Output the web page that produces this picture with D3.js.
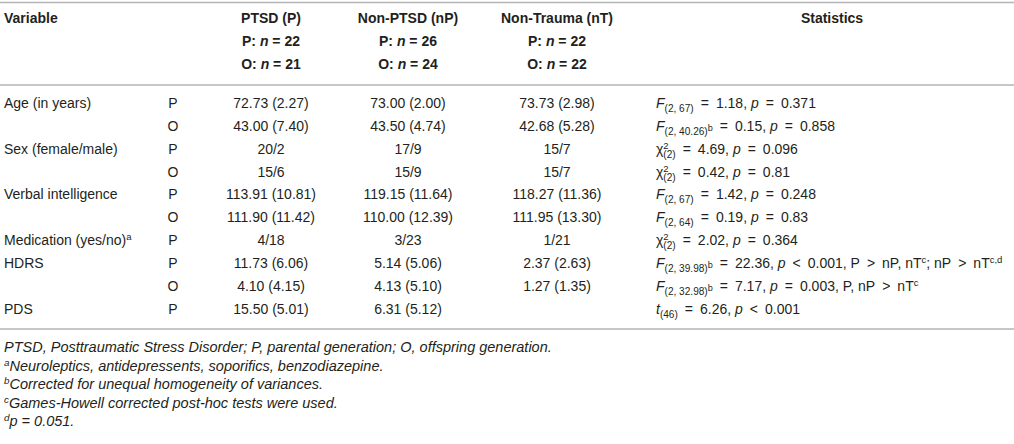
<!DOCTYPE html>
<html>
<head>
<meta charset="utf-8">
<script src="https://cdn.jsdelivr.net/npm/d3@7"></script>
<style>
  body { margin: 0; background: #fff; }
  text { font-family: "Liberation Sans", Arial, Helvetica, sans-serif; fill: #231f20; }
  .head { font-weight: bold; }
  .rule { stroke: #b4b4b4; stroke-width: 1.5; }
  .note { font-style: italic; }
</style>
</head>
<body>
<div id="chart"></div>
<script>
// Datos de la tabla
const headers = ["PTSD (P)", "Non-PTSD (nP)", "Non-Trauma (nT)"]
const nParents = [22, 26, 22]
const nOffspring = [21, 24, 22]

const variables = ["Age (in years)", "", "Sex (female/male)", "", "Verbal intelligence", "", "Medication (yes/no)", "HDRS", "", "PDS"]
const generations = ["P", "O", "P", "O", "P", "O", "P", "P", "O", "P"]
const ptsd = ["72.73 (2.27)", "43.00 (7.40)", "20/2", "15/6", "113.91 (10.81)", "111.90 (11.42)", "4/18", "11.73 (6.06)", "4.10 (4.15)", "15.50 (5.01)"]
const nonPtsd = ["73.00 (2.00)", "43.50 (4.74)", "17/9", "15/9", "119.15 (11.64)", "110.00 (12.39)", "3/23", "5.14 (5.06)", "4.13 (5.10)", "6.31 (5.12)"]
const nonTrauma = ["73.73 (2.98)", "42.68 (5.28)", "15/7", "15/7", "118.27 (11.36)", "111.95 (13.30)", "1/21", "2.37 (2.63)", "1.27 (1.35)", ""]

// Estadísticos: segmentos [texto, estilo]; los operadores llevan espacio ancho
const EQ = "\u2002=\u2002", LT = "\u2002<\u2002", GT = "\u2002>\u2002"
const statistics = [
    [["F", "i"], ["(2, 67)", "sub"], [EQ + "1.18, "], ["p", "i"], [EQ + "0.371"]],
    [["F", "i"], ["(2, 40.26)", "sub"], ["b", "subsup"], [EQ + "0.15, "], ["p", "i"], [EQ + "0.858"]],
    [["χ"], ["2", "sup"], ["(2)", "under"], [EQ + "4.69, "], ["p", "i"], [EQ + "0.096"]],
    [["χ"], ["2", "sup"], ["(2)", "under"], [EQ + "0.42, "], ["p", "i"], [EQ + "0.81"]],
    [["F", "i"], ["(2, 67)", "sub"], [EQ + "1.42, "], ["p", "i"], [EQ + "0.248"]],
    [["F", "i"], ["(2, 64)", "sub"], [EQ + "0.19, "], ["p", "i"], [EQ + "0.83"]],
    [["χ"], ["2", "sup"], ["(2)", "under"], [EQ + "2.02, "], ["p", "i"], [EQ + "0.364"]],
    [["F", "i"], ["(2, 39.98)", "sub"], ["b", "subsup"], [EQ + "22.36, "], ["p", "i"], [LT + "0.001, P" + GT + "nP, nT"], ["c", "sup"], ["; nP" + GT + "nT"], ["c,d", "sup"]],
    [["F", "i"], ["(2, 32.98)", "sub"], ["b", "subsup"], [EQ + "7.17, "], ["p", "i"], [EQ + "0.003, P, nP" + GT + "nT"], ["c", "sup"]],
    [["t", "i"], ["(46)", "sub"], [EQ + "6.26, "], ["p", "i"], [LT + "0.001"]]
]

const footnotes = [
    [["PTSD, Posttraumatic Stress Disorder; P, parental generation; O, offspring generation."]],
    [["a", "sup"], ["Neuroleptics, antidepressents, soporifics, benzodiazepine."]],
    [["b", "sup"], ["Corrected for unequal homogeneity of variances."]],
    [["c", "sup"], ["Games-Howell corrected post-hoc tests were used."]],
    [["d", "sup"], ["p = 0.051."]]
]

const width = 1014
const height = 444
const fontSize = 14
const noteSize = 14.5

const svg = d3.select("#chart")
    .append("svg")
    .attr("width", width)
    .attr("height", height)

svg.append("rect").attr("width", width).attr("height", height).attr("fill", "#fff")

// Escalas: filas y columnas
const rowIdx = d3.range(variables.length)
const y = d3.scalePoint().domain(rowIdx).range([103, 309])
const yHead = d3.scalePoint().domain([0, 1, 2]).range([18.5, 64])
const yNote = d3.scalePoint().domain(d3.range(footnotes.length)).range([347, 421])
const x = d3.scaleOrdinal()
    .domain(["variable", "gen", "c0", "c1", "c2", "stats", "statsHead"])
    .range([4, 173, 271, 408, 557, 656, 832])

// Reglas horizontales
const rules = [2.5, 85, 329]
svg.selectAll("line.rule").data(rules).enter()
    .append("line")
    .attr("class", "rule")
    .attr("x1", 0).attr("x2", width)
    .attr("y1", d => d).attr("y2", d => d)

// Texto con subíndices, superíndices y cursiva
function richText(g, segs, size) {
    const t = g.append("text").attr("font-size", size)
    let shift = 0
    segs.forEach(([txt, st]) => {
        const sp = t.append("tspan").text(txt)
        let target = 0
        if (st === "i") sp.attr("font-style", "italic")
        if (st === "sub") { target = 4; sp.attr("font-size", size * 0.72) }
        if (st === "subsup") { target = 0; sp.attr("font-size", size * 0.65) }
        if (st === "sup") { target = -5; sp.attr("font-size", size * 0.68) }
        if (st === "under") {
            target = 4; sp.attr("font-size", size * 0.72)
            sp.attr("dx", -size * 0.68 * 0.556)
        }
        sp.attr("dy", target - shift)
        shift = target
    })
    return t
}

// Encabezado
const head = svg.append("g").attr("class", "head")
head.append("text")
    .attr("x", x("variable")).attr("y", yHead(0)).attr("dy", "0.35em")
    .attr("font-size", fontSize)
    .text("Variable")
head.append("text")
    .attr("x", x("statsHead")).attr("y", yHead(0)).attr("dy", "0.35em")
    .attr("text-anchor", "middle")
    .attr("font-size", fontSize)
    .text("Statistics")

headers.forEach((h, i) => {
    const cx = x("c" + i)
    head.append("text")
        .attr("x", cx).attr("y", yHead(0)).attr("dy", "0.35em")
        .attr("text-anchor", "middle").attr("font-size", fontSize)
        .text(h)
    ;[["P", nParents[i]], ["O", nOffspring[i]]].forEach(([g, n], k) => {
        const t = head.append("text")
            .attr("x", cx).attr("y", yHead(k + 1)).attr("dy", "0.35em")
            .attr("text-anchor", "middle").attr("font-size", fontSize)
        t.append("tspan").text(g + ": ")
        t.append("tspan").attr("font-style", "italic").text("n")
        t.append("tspan").text(" = " + n)
    })
})

// Cuerpo de la tabla
const body = svg.append("g").attr("class", "body").attr("font-size", fontSize)

rowIdx.forEach(i => {
    const cells = [
        [variables[i], "variable", "start"],
        [generations[i], "gen", "middle"],
        [ptsd[i], "c0", "middle"],
        [nonPtsd[i], "c1", "middle"],
        [nonTrauma[i], "c2", "middle"]
    ]
    cells.forEach(([txt, col, anchor]) => {
        if (!txt) return
        body.append("text")
            .attr("x", x(col)).attr("y", y(i)).attr("dy", "0.35em")
            .attr("text-anchor", anchor).attr("font-size", fontSize)
            .text(txt)
    })
    const st = richText(body, statistics[i], fontSize)
    st.attr("x", x("stats")).attr("y", y(i) + fontSize * 0.35)
})

// superíndice de Medicación
const med = body.selectAll("text").filter(function() { return d3.select(this).text() === "Medication (yes/no)" })
med.append("tspan").attr("dy", -5).attr("font-size", fontSize * 0.68).text("a")

// Notas al pie
const notes = svg.append("g").attr("class", "note")
footnotes.forEach((segs, i) => {
    const t = richText(notes, segs, noteSize)
    t.attr("x", x("variable")).attr("y", yNote(i) + noteSize * 0.35)
})
</script>
</body>
</html>
